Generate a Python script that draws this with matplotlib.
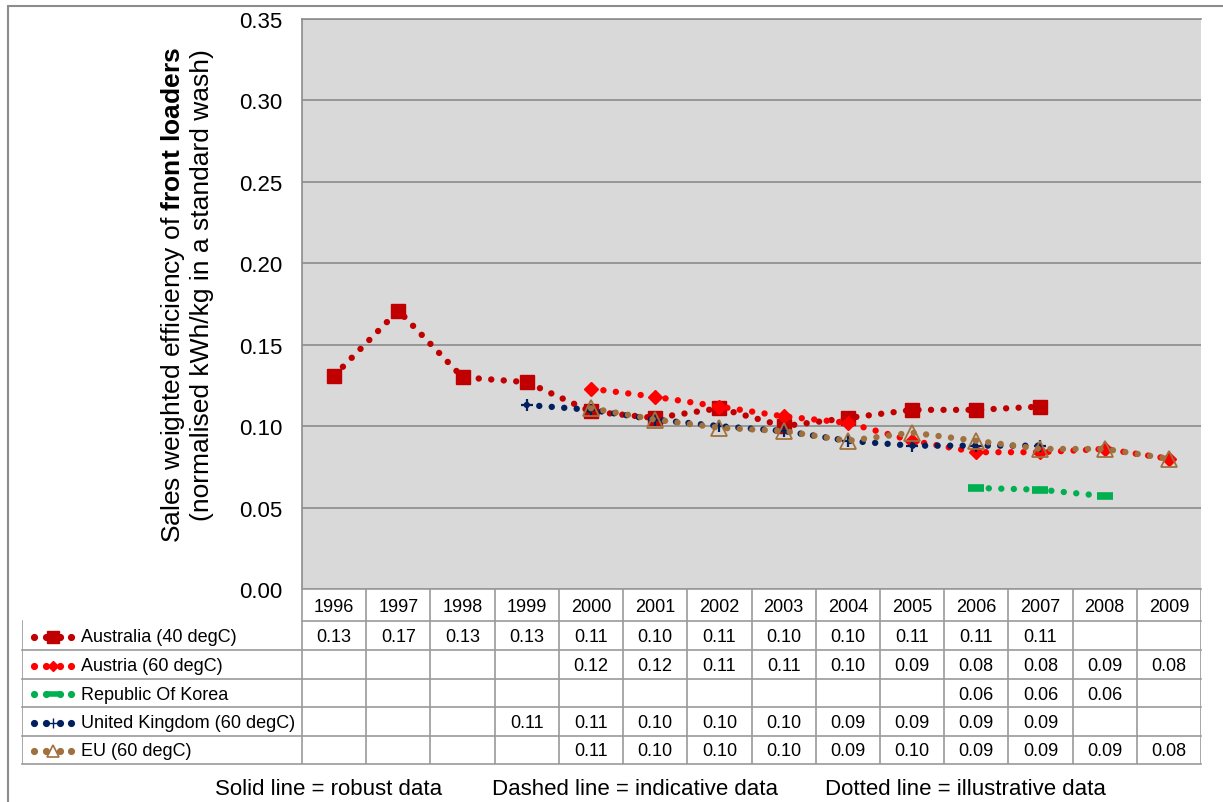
import numpy as np
import matplotlib
matplotlib.use("Agg")
from matplotlib import pyplot as plt
from matplotlib.lines import Line2D
from matplotlib.patches import Rectangle

plt.rcParams['font.family'] = ['Liberation Sans', 'DejaVu Sans']
plt.rcParams['mathtext.fontset'] = 'custom'
plt.rcParams['mathtext.rm'] = 'Liberation Sans'
plt.rcParams['mathtext.bf'] = 'Liberation Sans:bold'

years = ['1996', '1997', '1998', '1999', '2000', '2001', '2002',
         '2003', '2004', '2005', '2006', '2007', '2008', '2009']

# values (None = no data)
australia = [0.131, 0.171, 0.130, 0.127, 0.109, 0.105, 0.111,
             0.100, 0.105, 0.110, 0.110, 0.112, None, None]
austria = [None, None, None, None, 0.123, 0.118, 0.112,
           0.106, 0.102, 0.091, 0.084, 0.084, 0.086, 0.080]
korea = [None, None, None, None, None, None, None,
         None, None, None, 0.062, 0.061, 0.057, None]
uk = [None, None, None, 0.113, 0.110, 0.104, 0.100,
      0.097, 0.091, 0.088, 0.088, 0.088, None, None]
eu = [None, None, None, None, 0.111, 0.104, 0.099,
      0.097, 0.091, 0.096, 0.091, 0.086, 0.086, 0.080]

names = ['Australia (40 degC)', 'Austria (60 degC)', 'Republic Of Korea',
         'United Kingdom (60 degC)', 'EU (60 degC)']
series = [australia, austria, korea, uk, eu]
colors = ['#C00000', '#FF0000', '#00B050', '#002060', '#A0703F']
markers = ['s', 'D', '_', '+', '^']
msizes = [10, 7, 12, 9, 11]

W, H = 1223, 803
fig = plt.figure(figsize=(W / 100, H / 100), dpi=100)

def box(x0, y0, x1, y1):
    return [x0 / W, 1 - y1 / H, (x1 - x0) / W, (y1 - y0) / H]

# outer chart frame
fig.patches.append(Rectangle((8 / W, -0.05), 1.1, 1 - 7 / H + 0.05,
                             transform=fig.transFigure, fill=False,
                             edgecolor='#8c8c8c', lw=1.5))

ax = fig.add_axes(box(302, 20, 1201, 590))
ax.set_facecolor('#D9D9D9')
x = np.arange(len(years))
DOT = 4.6

def style(i):
    return dict(color=colors[i], lw=DOT, linestyle=(0, (0.01, 1.95)),
                dash_capstyle='round')

for i, s in enumerate(series):
    xs = [xi for xi, v in zip(x, s) if v is not None]
    ys = [v for v in s if v is not None]
    ax.plot(xs, ys, **style(i))
    kw = dict(marker=markers[i], ms=msizes[i], ls='none', color=colors[i])
    if markers[i] == '^':
        kw.update(mfc='none', mec=colors[i], mew=1.3)
    elif markers[i] == '_':
        kw.update(mew=5.5)
    elif markers[i] == '+':
        kw.update(mew=1.6)
    ax.plot(xs, ys, **kw)

ax.set_xlim(-0.5, len(years) - 0.5)
ax.set_ylim(0, 0.35)
ax.set_yticks(np.arange(0, 0.351, 0.05))
ax.set_yticklabels([f'{v:.2f}' for v in np.arange(0, 0.351, 0.05)])
ax.set_xticks([])
ax.tick_params(axis='y', length=0, pad=14, labelsize=16)
ax.grid(axis='y', color='#8c8c8c', lw=1.2)
ax.set_axisbelow(True)
for side in ['right', 'bottom']:
    ax.spines[side].set_visible(False)
for side in ['top', 'left']:
    ax.spines[side].set_color('#8c8c8c')
    ax.spines[side].set_linewidth(1.2)

fig.text(173 / W, 1 - 295 / H,
         r'Sales weighted efficiency of $\mathbf{front\ loaders}$',
         rotation=90, ha='center', va='center', fontsize=19)
fig.text(202 / W, 1 - 285 / H, '(normalised kWh/kg in a standard wash)',
         rotation=90, ha='center', va='center', fontsize=19)

# data table
col_w = (1201 - 302) / len(years)
left = -0.5 - (302 - 22) / col_w
px = 1 / col_w
rows = [590, 622, 651, 680, 708, 737, 765]
tab = fig.add_axes(box(22, 590, 1201, 765))
tab.set_xlim(left, len(years) - 0.5)
tab.set_ylim(rows[-1], rows[0])
tab.axis('off')
lc = '#9a9a9a'
fs = 13

# header row
for r in rows[:2]:
    tab.plot([-0.5, len(years) - 0.5], [r, r], color=lc, lw=1.2,
             clip_on=False)
for k in range(len(years) + 1):
    tab.plot([k - 0.5, k - 0.5], [rows[0], rows[-1]], color=lc, lw=1.2)
tab.plot([left, left], [rows[1], rows[-1]], color=lc, lw=1.2)
for r in rows[2:]:
    tab.plot([left, len(years) - 0.5], [r, r], color=lc, lw=1.2,
             clip_on=False)
for k, yr in enumerate(years):
    tab.text(k, (rows[0] + rows[1]) / 2 + 1, yr, ha='center', va='center',
             fontsize=fs)

for i, s in enumerate(series):
    yc = (rows[i + 1] + rows[i + 2]) / 2 + 1
    kx0, kx1 = left + 12 * px, left + 49 * px
    kc = (kx0 + kx1) / 2
    tab.add_line(Line2D([kx0, kx1], [yc, yc], ls='none', marker='o',
                        ms=DOT * 0.9, color=colors[i]))
    tab.add_line(Line2D([kc - 7 * px, kc + 7 * px], [yc, yc],
                        ls='none', marker='o', ms=DOT * 0.9, color=colors[i]))
    kw = dict(marker=markers[i], ms=msizes[i] * 0.8, color=colors[i])
    if markers[i] == '^':
        kw.update(mfc='none', mec=colors[i], mew=1.2)
    elif markers[i] == '_':
        kw.update(mew=4)
    tab.add_line(Line2D([kc], [yc], ls='none', **kw))
    tab.text(left + 59 * px, yc, names[i], ha='left', va='center',
             fontsize=fs)
    for k, v in enumerate(s):
        if v is not None:
            tab.text(k, yc, f'{v:.2f}', ha='center', va='center',
                     fontsize=fs)

notes = ['Solid line = robust data', 'Dashed line = indicative data',
         'Dotted line = illustrative data']
for xn, note in zip([215, 492, 825], notes):
    fig.text(xn / W, 1 - 790 / H, note, ha='left', va='center', fontsize=16)

fig.savefig('out.png', dpi=100)
